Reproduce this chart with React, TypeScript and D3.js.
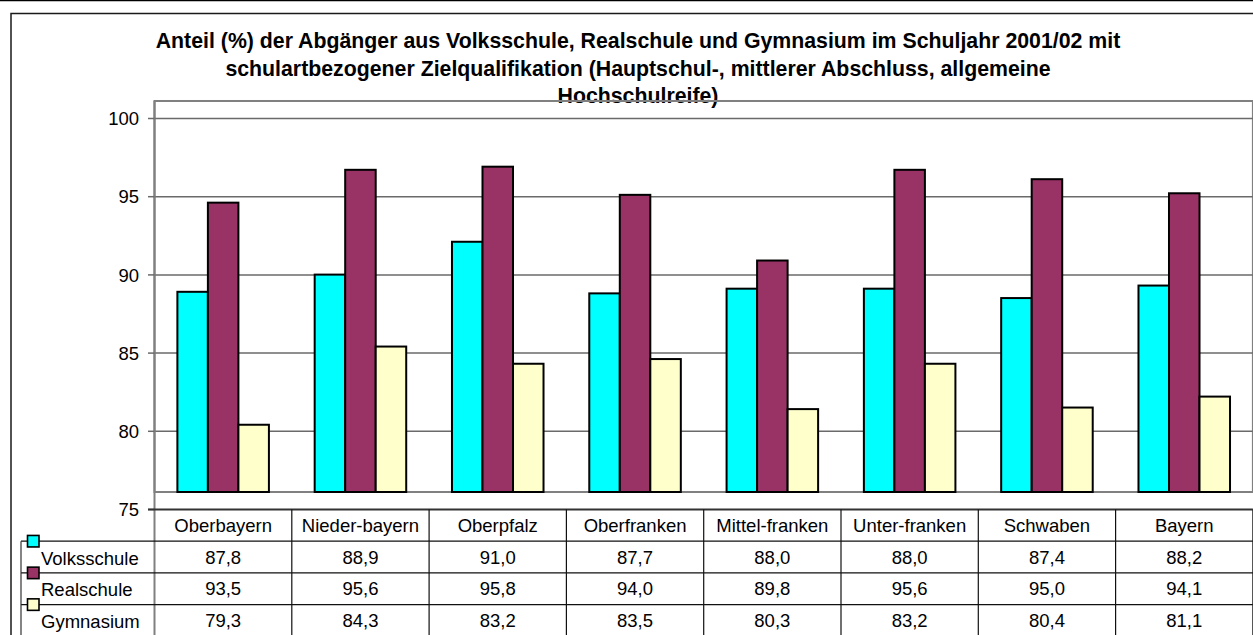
import React from "react";
import * as d3 from "d3";

const titleLines = [
  "Anteil (%) der Abgänger aus Volksschule, Realschule und Gymnasium im Schuljahr 2001/02 mit",
  "schulartbezogener Zielqualifikation (Hauptschul-, mittlerer Abschluss, allgemeine",
  "Hochschulreife)",
];
const categories = [
  "Oberbayern",
  "Nieder-bayern",
  "Oberpfalz",
  "Oberfranken",
  "Mittel-franken",
  "Unter-franken",
  "Schwaben",
  "Bayern",
];
const seriesNames = ["Volksschule", "Realschule", "Gymnasium"];
const volksschule = [87.8, 88.9, 91.0, 87.7, 88.0, 88.0, 87.4, 88.2];
const realschule = [93.5, 95.6, 95.8, 94.0, 89.8, 95.6, 95.0, 94.1];
const gymnasium = [79.3, 84.3, 83.2, 83.5, 80.3, 83.2, 80.4, 81.1];
const yTicks = [75, 80, 85, 90, 95, 100];
const colors = ["#00FFFF", "#993366", "#FFFFCC"];

const W = 1253;
const H = 635;
const plotLeft = 154.5;
const plotRight = 1252.9;
const plotTop = 101;
const plotBottom = 492;
const axisBottom = 509.5;
const rowH = 31.7;
const FONT = "'Liberation Sans', Arial, sans-serif";
const fs = 18.5;

export default function App() {
  const series = [volksschule, realschule, gymnasium];
  const x = d3.scaleBand<string>().domain(categories).range([plotLeft, plotRight]).padding(0);
  const bw = x.bandwidth();
  const barW = bw / 4.5;
  // axis scale (labels / gridlines) and bar scale (as drawn, shifted by the data table)
  const yAxis = d3.scaleLinear().domain([75, 100]).range([axisBottom, plotTop + (axisBottom - plotBottom)]);
  const yBar = d3.scaleLinear().domain([75, 100]).range([plotBottom, plotTop]);
  const rowLines = [1, 2, 3].map((i) => axisBottom + rowH * i);
  const colEdges = categories.map((c) => x(c) as number).concat([plotRight]);

  return (
    <svg
      width={W}
      height={H}
      style={{ position: "absolute", left: 0, top: 0, background: "#fff" }}
      fontFamily={FONT}
    >
      <rect x={0} y={0} width={W} height={H} fill="#fff" />
      <line x1={0} x2={W} y1={0.5} y2={0.5} stroke="#000" strokeWidth={1.5} />
      <rect x={11} y={13.5} width={W + 20} height={H + 20} fill="none" stroke="#1a1a1a" strokeWidth={1.5} />

      {/* title */}
      {titleLines.map((t, i) => (
        <text
          key={i}
          x={638}
          y={48.3 + i * 27.4}
          textAnchor="middle"
          fontWeight="bold"
          fontSize={21.3}
          fill="#000"
        >
          {t}
        </text>
      ))}

      {/* plot area */}
      <rect
        x={plotLeft}
        y={plotTop}
        width={plotRight - plotLeft}
        height={plotBottom - plotTop}
        fill="none"
        stroke="#808080"
        strokeWidth={2}
      />
      {yTicks
        .filter((t) => t > 75)
        .map((t) => (
          <line
            key={t}
            x1={plotLeft}
            x2={plotRight}
            y1={yAxis(t)}
            y2={yAxis(t)}
            stroke="#6a6a6a"
            strokeWidth={1.5}
          />
        ))}

      {/* bars */}
      {series.map((vals, si) =>
        vals.map((v, ci) => {
          const x0 = (x(categories[ci]) as number) + 0.75 * barW + si * barW;
          return (
            <rect
              key={`${si}-${ci}`}
              x={x0}
              y={yBar(v)}
              width={barW}
              height={plotBottom - yBar(v)}
              fill={colors[si]}
              stroke="#000"
              strokeWidth={2}
            />
          );
        })
      )}

      {/* y axis */}
      <line x1={plotLeft} x2={plotLeft} y1={plotTop} y2={H} stroke="#808080" strokeWidth={2} />
      {yTicks.map((t) => (
        <g key={t}>
          <line x1={148} x2={plotLeft} y1={yAxis(t)} y2={yAxis(t)} stroke="#6a6a6a" strokeWidth={1.5} />
          <text x={139} y={yAxis(t)} dy="0.36em" textAnchor="end" fontSize={fs} fill="#000">
            {t}
          </text>
        </g>
      ))}

      {/* data table */}
      <line x1={148} x2={plotRight} y1={axisBottom} y2={axisBottom} stroke="#333" strokeWidth={2} />
      {rowLines.map((ry, i) => (
        <line key={i} x1={21} x2={plotRight} y1={ry} y2={ry} stroke="#111" strokeWidth={1.2} />
      ))}
      <line x1={21} x2={21} y1={rowLines[0]} y2={H} stroke="#333" strokeWidth={1.2} />
      {colEdges.slice(1).map((cx, i) => (
        <line key={i} x1={cx} x2={cx} y1={axisBottom} y2={H} stroke="#111" strokeWidth={1.2} />
      ))}
      {categories.map((c) => (
        <text
          key={c}
          x={(x(c) as number) + bw / 2}
          y={axisBottom + rowH / 2}
          dy="0.36em"
          textAnchor="middle"
          fontSize={fs}
          fill="#000"
        >
          {c}
        </text>
      ))}
      {series.map((vals, si) => (
        <g key={si}>
          <rect
            x={27.5}
            y={rowLines[si] - 5.75}
            width={11.5}
            height={11.5}
            fill={colors[si]}
            stroke="#000"
            strokeWidth={1.6}
          />
          <text x={41} y={rowLines[si] + rowH / 2 + 1} dy="0.36em" fontSize={fs} fill="#000">
            {seriesNames[si]}
          </text>
          {vals.map((v, ci) => (
            <text
              key={ci}
              x={(x(categories[ci]) as number) + bw / 2}
              y={rowLines[si] + rowH / 2}
              dy="0.36em"
              textAnchor="middle"
              fontSize={fs}
              fill="#000"
            >
              {d3.format(".1f")(v).replace(".", ",")}
            </text>
          ))}
        </g>
      ))}
    </svg>
  );
}
